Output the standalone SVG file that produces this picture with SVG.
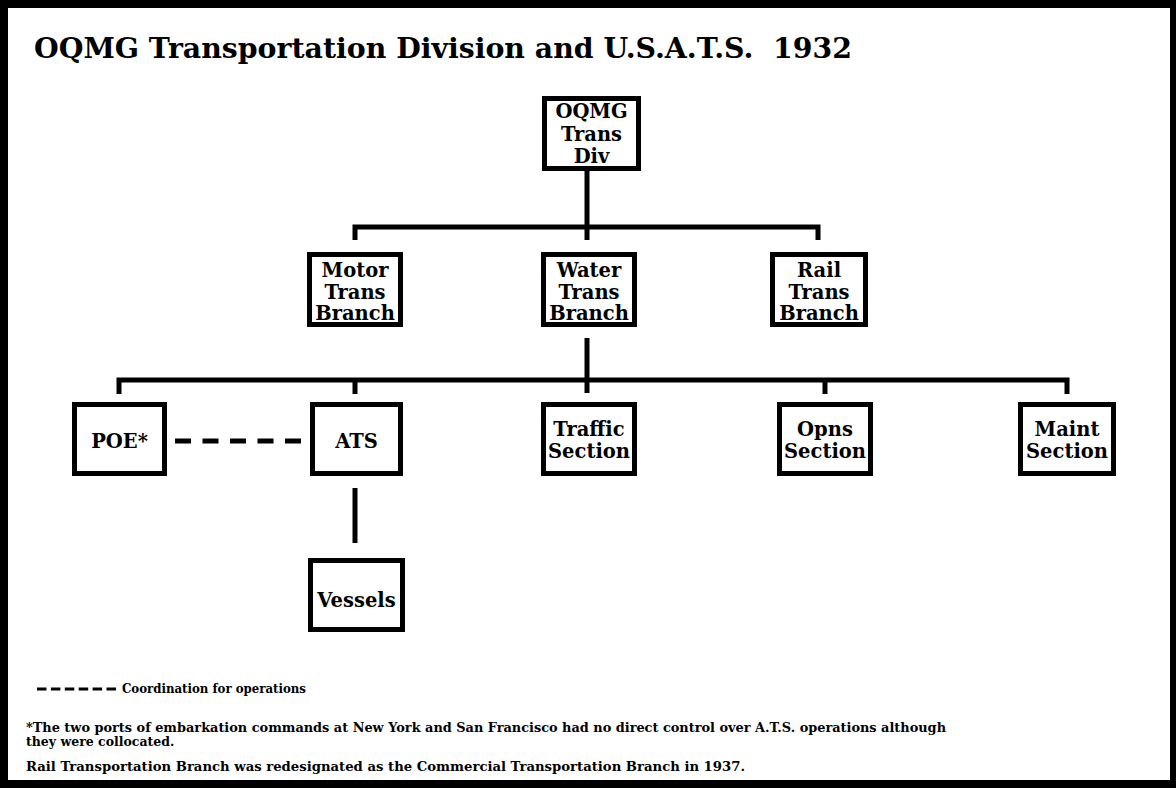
<svg xmlns="http://www.w3.org/2000/svg" width="1176" height="788" viewBox="0 0 1176 788">
<style>
text{font-family:"DejaVu Serif","Liberation Serif",serif;font-weight:bold;fill:#000}
.box{fill:#fff;stroke:#000;stroke-width:5}
.lbl{font-size:19.5px;text-anchor:middle}
.con{fill:none;stroke:#000;stroke-width:5}
.note{font-size:12.5px}
</style>
<rect x="0" y="0" width="1176" height="788" fill="#fff"/>
<rect x="4" y="4" width="1170" height="780" fill="none" stroke="#000" stroke-width="8"/>
<text x="34" y="58" font-size="28" xml:space="preserve" textLength="818" lengthAdjust="spacingAndGlyphs">OQMG Transportation Division and U.S.A.T.S.  1932</text>
<g id="connectors">
<path class="con" d="M587 171V240"/>
<path class="con" d="M355 240V227H818V240"/>
<path class="con" d="M587 338V393"/>
<path class="con" d="M119 394V380H1067V394M355 380V394M825 380V394"/>
<path class="con" d="M355 488V543"/>
<path class="con" d="M175 441H301" stroke-dasharray="16 11.5"/>
</g>
<g id="oqmg"><rect class="box" x="544.5" y="98.5" width="94" height="70"/><text class="lbl" x="591.5" y="118">OQMG</text><text class="lbl" x="591.5" y="141">Trans</text><text class="lbl" x="591.5" y="163">Div</text></g>
<g id="motor"><rect class="box" x="309.5" y="254.5" width="91" height="70"/><text class="lbl" x="355" y="277">Motor</text><text class="lbl" x="355" y="299">Trans</text><text class="lbl" x="355" y="320">Branch</text></g>
<g id="water"><rect class="box" x="543.5" y="254.5" width="91" height="70"/><text class="lbl" x="589" y="277">Water</text><text class="lbl" x="589" y="299">Trans</text><text class="lbl" x="589" y="320">Branch</text></g>
<g id="rail"><rect class="box" x="772.5" y="254.5" width="93" height="70"/><text class="lbl" x="819" y="277">Rail</text><text class="lbl" x="819" y="299">Trans</text><text class="lbl" x="819" y="320">Branch</text></g>
<g id="poe"><rect class="box" x="74.5" y="404.5" width="90" height="69"/><text class="lbl" x="119.5" y="448">POE*</text></g>
<g id="ats"><rect class="box" x="312.5" y="404.5" width="88" height="69"/><text class="lbl" x="356.5" y="448">ATS</text></g>
<g id="traffic"><rect class="box" x="543.5" y="404.5" width="91" height="69"/><text class="lbl" x="589" y="436">Traffic</text><text class="lbl" x="589" y="458">Section</text></g>
<g id="opns"><rect class="box" x="779.5" y="404.5" width="91" height="69"/><text class="lbl" x="825" y="436">Opns</text><text class="lbl" x="825" y="458">Section</text></g>
<g id="maint"><rect class="box" x="1020.5" y="404.5" width="93" height="69"/><text class="lbl" x="1067" y="436">Maint</text><text class="lbl" x="1067" y="458">Section</text></g>
<g id="vessels"><rect class="box" x="310.5" y="560.5" width="92" height="69"/><text class="lbl" x="356.5" y="607">Vessels</text></g>
<g id="legend">
<path d="M37 689H116" stroke="#000" stroke-width="3" stroke-dasharray="9.5 4.4"/>
<text class="note" x="122" y="693" textLength="184" lengthAdjust="spacingAndGlyphs">Coordination for operations</text>
</g>
<g id="notes">
<text class="note" x="26" y="732" textLength="920" lengthAdjust="spacingAndGlyphs">*The two ports of embarkation commands at New York and San Francisco had no direct control over A.T.S. operations although</text>
<text class="note" x="26" y="746">they were collocated.</text>
<text class="note" x="26" y="771" textLength="719" lengthAdjust="spacingAndGlyphs">Rail Transportation Branch was redesignated as the Commercial Transportation Branch in 1937.</text>
</g>
</svg>
